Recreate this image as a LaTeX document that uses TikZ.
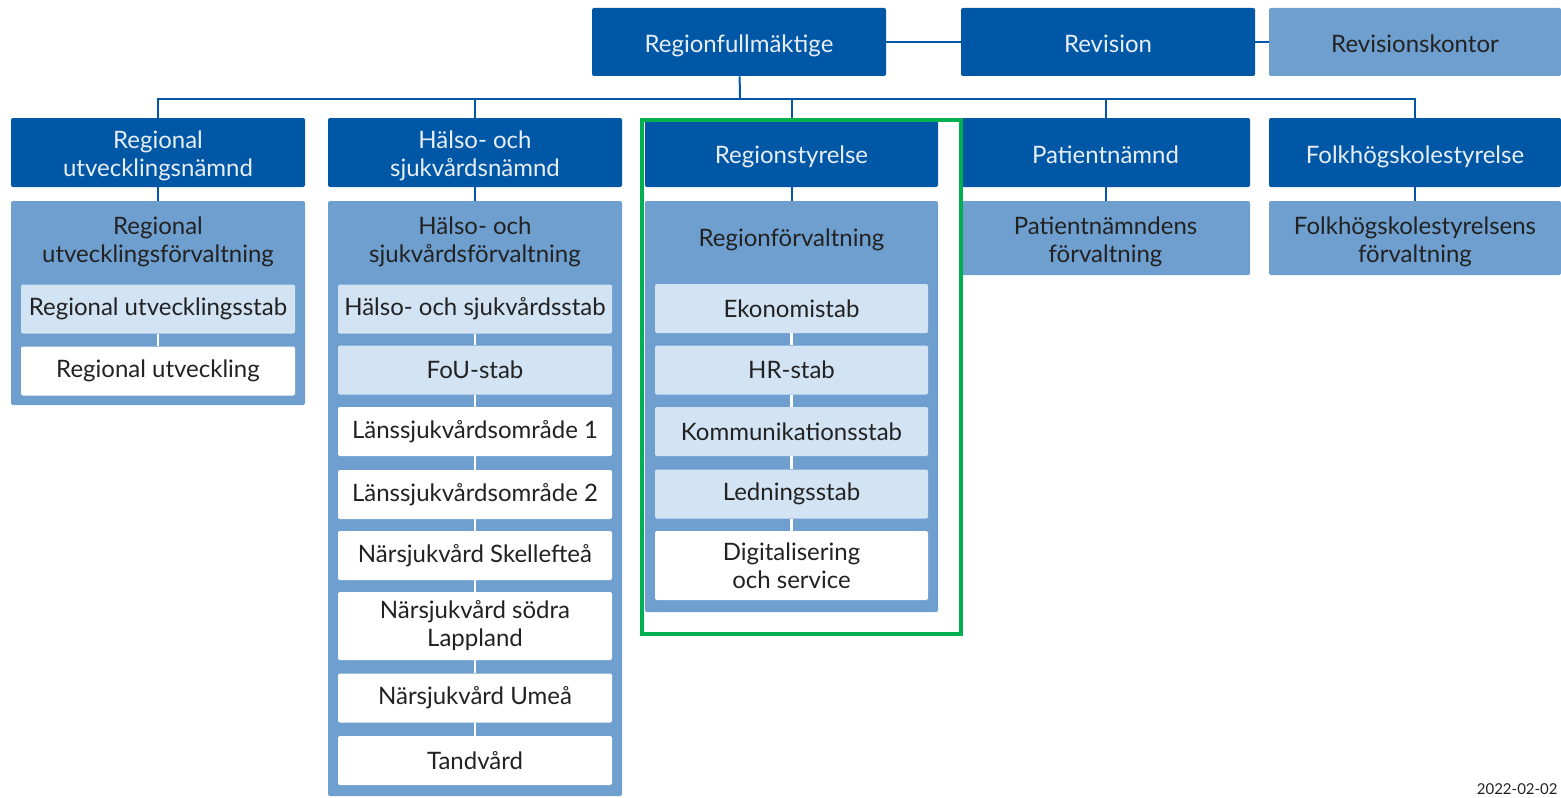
\documentclass[tikz,border=0pt]{standalone}
\usepackage{fontspec}
\setmainfont{Lato}

\definecolor{nblue}{HTML}{0057A6}
\definecolor{fblue}{HTML}{6E9FCF}
\definecolor{sblue}{HTML}{D2E3F4}
\definecolor{ntext}{HTML}{E8EEF6}
\definecolor{ink}{HTML}{222222}
\definecolor{markgreen}{HTML}{00B050}

\tikzset{
  lowtext/.style={execute at begin node={\rule[-2.7pt]{0pt}{#1}}},
  lowtext/.default=16.2pt,
  board/.style={rectangle, rounded corners=1pt, fill=nblue, text=ntext, align=center, inner sep=0pt, minimum height=34.5pt, lowtext},
  office/.style={rectangle, rounded corners=1pt, fill=fblue, text=ink, align=center, inner sep=0pt, lowtext},
  head/.style={text=ink, align=center, inner sep=0pt},
  stab/.style={rectangle, rounded corners=1pt, fill=sblue, text=ink, align=center, inner sep=0pt, minimum width=137pt, minimum height=24.5pt},
  unit/.style={stab, fill=white},
  link/.style={draw=nblue, line width=1pt},
  gap/.style={draw=white, line width=1.3pt}
}

\begin{document}
\begin{tikzpicture}[x=0.5pt, y=-0.5pt, font=\fontsize{12}{14}\selectfont]
\useasboundingbox (0,0) rectangle (1561,797);
\clip (0,0) rectangle (1561,797);

\node[board, minimum width=147pt, minimum height=34pt] (rf) at (739,42) {Regionfullmäktige};
\node[board, minimum width=147pt, minimum height=34pt] (rev) at (1108,42) {Revision};
\node[office, minimum width=146pt, minimum height=34pt] (revk) at (1415,42) {Revisionskontor};

\node[board, minimum width=147pt, lowtext=29.5pt] (run) at (158,152.5) {Regional\\utvecklingsnämnd};
\node[board, minimum width=147pt, lowtext=29.5pt] (hsn) at (475,152.5) {Hälso- och\\sjukvårdsnämnd};
\node[board, minimum width=146.5pt] (rs) at (791.5,152.5) {Regionstyrelse};
\node[board, minimum width=144.5pt] (pn) at (1105.5,152.5) {Patientnämnd};
\node[board, minimum width=146pt] (fs) at (1415,152.5) {Folkhögskolestyrelse};

\node[office, minimum width=147pt, minimum height=102pt] (ruf) at (158,303) {};
\node[office, minimum width=147pt, minimum height=297.5pt] (hsf) at (475,498.5) {};
\node[office, minimum width=146.5pt, minimum height=205.5pt] (rsf) at (791.5,406.5) {};
\node[office, minimum width=144.5pt, minimum height=37pt, lowtext=30pt] (pnf) at (1105.5,238) {Patientnämndens\\förvaltning};
\node[office, minimum width=146pt, minimum height=37pt, lowtext=30pt] (fsf) at (1415,238) {Folkhögskolestyrelsens\\förvaltning};

\node[head] (rufhead) at (158,242) {Regional\\utvecklingsförvaltning};
\node[head] (hsfhead) at (475,242) {Hälso- och\\sjukvårdsförvaltning};
\node[head] (rsfhead) at (791.5,240) {Regionförvaltning};

\node[stab] (rus) at (158,309) {Regional utvecklingsstab};
\node[unit] (ru) at (158,371) {Regional utveckling};

\node[stab] (hss) at (475,309) {Hälso- och sjukvårdsstab};
\node[stab] (fou) at (475,370) {FoU-stab};
\node[unit] (ls1) at (475,431.5) {Länssjukvårdsområde 1};
\node[unit] (ls2) at (475,494.5) {Länssjukvårdsområde 2};
\node[unit] (nsk) at (475,555.5) {Närsjukvård Skellefteå};
\node[unit, minimum height=34pt] (nsl) at (475,626) {Närsjukvård södra\\Lappland};
\node[unit] (num) at (475,698) {Närsjukvård Umeå};
\node[unit] (tand) at (475,760.5) {Tandvård};

\node[stab, minimum width=136.5pt] (eko) at (791.5,308.5) {Ekonomistab};
\node[stab, minimum width=136.5pt] (hr) at (791.5,370) {HR-stab};
\node[stab, minimum width=136.5pt] (kom) at (791.5,431.5) {Kommunikationsstab};
\node[stab, minimum width=136.5pt] (led) at (791.5,494) {Ledningsstab};
\node[unit, minimum width=136.5pt, minimum height=34.5pt] (dig) at (791.5,565.5) {Digitalisering\\och service};

\coordinate (bus) at (740,99);
\draw[link] (rf) -- (rev);
\draw[link] (rev) -- (revk);
\draw[link] (rf) -- (bus);
\draw[link] (run.north) |- (bus) -| (fs.north);
\draw[link] (hsn) -- (hsn |- bus);
\draw[link] (rs) -- (rs |- bus);
\draw[link] (pn) -- (pn |- bus);

\draw[link] (run) -- (ruf);
\draw[link] (hsn) -- (hsf);
\draw[link] (rs) -- (rsf);
\draw[link] (pn) -- (pnf);
\draw[link] (fs) -- (fsf);

\draw[gap] (rus) -- (ru);
\draw[gap] (hss) -- (fou);
\draw[gap] (fou) -- (ls1);
\draw[gap] (ls1) -- (ls2);
\draw[gap] (ls2) -- (nsk);
\draw[gap] (nsk) -- (nsl);
\draw[gap] (nsl) -- (num);
\draw[gap] (num) -- (tand);
\draw[gap] (eko) -- (hr);
\draw[gap] (hr) -- (kom);
\draw[gap] (kom) -- (led);
\draw[gap] (led) -- (dig);

\draw[markgreen, line width=2pt] (642,120) rectangle (961,634);

\node[anchor=base east, inner sep=0pt, text=ink, font=\fontsize{7.5}{8}\selectfont] (date) at (1558,794) {2022-02-02};
\end{tikzpicture}
\end{document}
